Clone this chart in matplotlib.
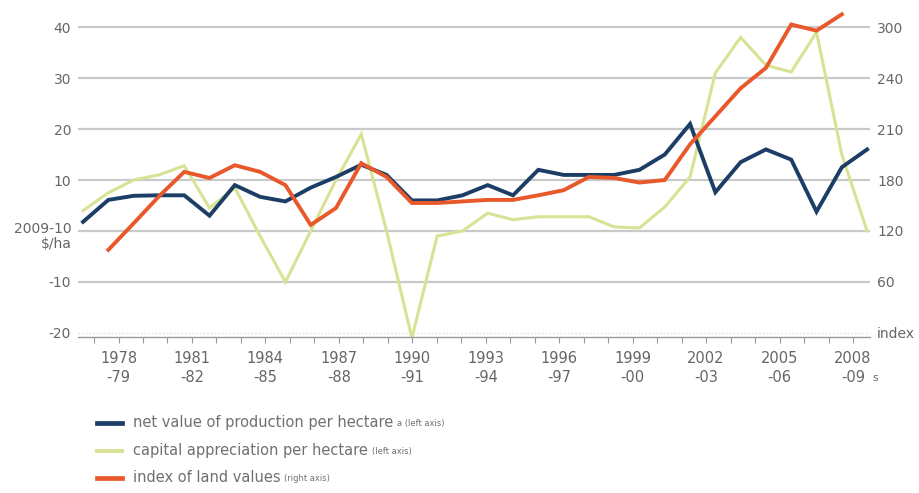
import matplotlib
matplotlib.use("Agg")
import matplotlib.pyplot as plt
from matplotlib.lines import Line2D
from matplotlib.ticker import FixedLocator, FixedFormatter

plt.rcParams["font.family"] = ["Liberation Sans Narrow", "DejaVu Sans"]

# financial years, 1977-78 .. 2008-09
years = [f"{y}-{(y + 1) % 100:02d}" for y in range(1977, 2009)]

# $/ha, left axis
net_value = [1.8, 6.1, 6.9, 7.0, 7.0, 3.0, 9.0, 6.7, 5.8, 8.5, 10.6, 13.0,
             11.0, 6.0, 6.0, 7.0, 9.0, 7.0, 12.0, 11.0, 11.0, 11.0, 12.0, 15.0,
             21.0, 7.6, 13.5, 16.0, 14.0, 3.8, 12.5, 16.0]
capital_appr = [4.0, 7.5, 10.0, 11.0, 12.8, 4.5, 8.5, -1.0, -10.0, 0.0, 10.0, 19.0,
                0.0, -21.0, -1.0, 0.0, 3.5, 2.2, 2.8, 2.8, 2.8, 0.8, 0.6, 4.7,
                10.6, 31.0, 38.0, 32.5, 31.2, 39.0, 15.0, 0.0]
# index, right axis (no value for 1977-78 and 2008-09)
land_index = [None, 97.8, 129.0, 160.8, 189.6, 182.4, 197.4, 189.6, 174.0, 127.2,
              147.0, 199.8, 183.6, 153.0, 153.0, 154.8, 156.6, 156.6, 162.0, 168.0,
              183.6, 182.4, 177.0, 180.0, 222.0, 255.0, 288.0, 312.0, 363.0, 355.8,
              375.0, None]

left_ticks = [-20, -10, 0, 10, 20, 30, 40]
left_labels = ["-20", "-10", "", "10", "20", "30", "40"]
right_ticks = [0, 60, 120, 180, 240, 300, 360]
right_labels = ["index", "60", "120", "180", "210", "240", "300"]
label_years = list(range(1978, 2009, 3))

BLUE = "#1c3d66"
GREEN = "#d9e294"
ORANGE = "#e8582b"
GRID = "#c9c9c9"
TXT = "#666666"

fig = plt.figure(figsize=(9.2, 4.93), dpi=100)
ax = fig.add_axes([0.0848, 0.3164, 0.861, 0.670])
ax.set_xlim(-0.2, 31.12)
ax.set_ylim(-20.8, 44)

for v in left_ticks[1:]:
    ax.axhline(v, color=GRID, lw=1.6, zorder=0)
ax.axhline(-20, color="#dddddd", lw=1, ls=":", zorder=0)

x = list(range(len(years)))
ax.plot(x, capital_appr, color=GREEN, lw=2.2, zorder=2, solid_joinstyle="miter")
ax.plot(x, net_value, color=BLUE, lw=2.8, zorder=3, solid_joinstyle="miter")

axr = ax.twinx()
axr.set_ylim(120 + 6 * -20.8, 120 + 6 * 44)
xi = [i for i, v in enumerate(land_index) if v is not None]
axr.plot(xi, [land_index[i] for i in xi], color=ORANGE, lw=2.8, zorder=4,
         solid_joinstyle="miter")

ax.yaxis.set_major_locator(FixedLocator(left_ticks))
ax.yaxis.set_major_formatter(FixedFormatter(left_labels))
axr.yaxis.set_major_locator(FixedLocator(right_ticks))
axr.yaxis.set_major_formatter(FixedFormatter(right_labels))
for a in (ax, axr):
    a.tick_params(axis="y", length=0, labelsize=10, labelcolor=TXT, pad=5)
    for s in a.spines.values():
        s.set_visible(False)
ax.text(-0.008, -1.0, "2009-10\n$/ha", transform=ax.get_yaxis_transform(),
        ha="right", va="center", fontsize=10, color=TXT, linespacing=1.1)

# year axis (labels sit on a slightly tighter scale than the lines)
ax.set_xticks([])
axx = ax.twiny()
axx.set_xlim(-0.654, 31.70)
axx.xaxis.set_ticks_position("bottom")
axx.xaxis.set_label_position("bottom")
axx.spines["bottom"].set_position(("axes", 0.0))
for s in ("top", "left", "right"):
    axx.spines[s].set_visible(False)
axx.spines["bottom"].set_color("#9a9a9a")
axx.spines["bottom"].set_linewidth(1.0)
tick_labels = []
for y in range(1977, 2009):
    tick_labels.append(f"{y}\n-{(y + 1) % 100:02d}" if y in label_years else "")
axx.xaxis.set_major_locator(FixedLocator(list(range(len(years)))))
axx.xaxis.set_major_formatter(FixedFormatter(tick_labels))
axx.tick_params(axis="x", direction="out", length=4, color="#9a9a9a",
                labelsize=10.5, labelcolor=TXT, pad=6)
for t in axx.get_xticklabels():
    t.set_linespacing(1.3)
axx.text(31.78, -0.125, "s", transform=axx.get_xaxis_transform(),
         fontsize=7.5, color=TXT, ha="left", va="center")

# legend
entries = [
    (BLUE, 2.8, "net value of production per hectare", "a (left axis)"),
    (GREEN, 2.2, "capital appreciation per hectare", "(left axis)"),
    (ORANGE, 2.8, "index of land values", "(right axis)"),
]
fig.canvas.draw()
renderer = fig.canvas.get_renderer()
for k, (col, lw, main, note) in enumerate(entries):
    yf = 1 - (423 + 27.5 * k) / 493
    fig.add_artist(Line2D([97 / 920, 122 / 920], [yf, yf], color=col, lw=lw + 0.6))
    t = fig.text(133 / 920, yf, main, fontsize=10.5, color="#707070", va="center")
    bb = t.get_window_extent(renderer)
    fig.text(bb.x1 / 920 + 0.004, yf - 0.002, note, fontsize=6, color="#707070",
             va="center")

fig.savefig("out.png", dpi=100)
